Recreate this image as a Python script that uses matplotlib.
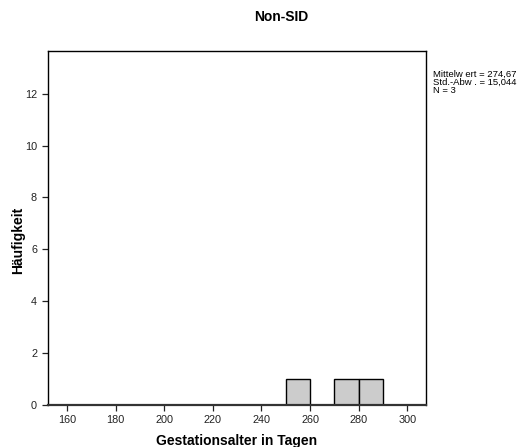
import matplotlib
matplotlib.use("Agg")
import matplotlib.pyplot as plt
import numpy as np

plt.rcParams["font.family"] = ["Liberation Sans", "DejaVu Sans"]

# Gestational age (days) of the non-SID cases
gestation_days = [259, 276, 289]
bin_edges = np.arange(150, 320, 10)

x_ticks = [160, 180, 200, 220, 240, 260, 280, 300]
y_ticks = [0, 2, 4, 6, 8, 10, 12]

mean = np.mean(gestation_days)
sd = np.std(gestation_days, ddof=1)
n = len(gestation_days)

fig = plt.figure(figsize=(5.22, 4.47), dpi=100)
ax = fig.add_axes([0.091, 0.094, 0.725, 0.792])

ax.hist(gestation_days, bins=bin_edges, facecolor="#cccccc",
        edgecolor="black", linewidth=1.0)

ax.set_xlim(152, 307.7)
ax.set_ylim(0, 13.65)
ax.set_xticks(x_ticks)
ax.set_yticks(y_ticks)
ax.tick_params(axis="both", labelsize=7.8, colors="#222222", length=4,
               width=0.9, direction="out")
for side in ["top", "right", "left"]:
    ax.spines[side].set_linewidth(1.0)
ax.spines["bottom"].set_linewidth(1.6)
ax.spines["bottom"].set_color("#333333")

fig.text(0.538, 0.962, "Non-SID", ha="center", va="center",
         fontsize=10, fontweight="bold")
fig.text(0.454, 0.014, "Gestationsalter in Tagen", ha="center",
         va="center", fontsize=10, fontweight="bold")
fig.text(0.034, 0.462, "Häufigkeit", ha="center", va="center",
         rotation=90, fontsize=10, fontweight="bold")

# German decimal commas
mean_txt = f"{mean:.2f}".replace(".", ",")
sd_txt = f"{sd:.3f}".replace(".", ",")
stats = f"Mittelw ert = {mean_txt}\nStd.-Abw . = {sd_txt}\nN = {n}"
fig.text(0.829, 0.843, stats, ha="left", va="top", fontsize=6.8,
         linespacing=0.85)

fig.savefig("out.png", dpi=100)
